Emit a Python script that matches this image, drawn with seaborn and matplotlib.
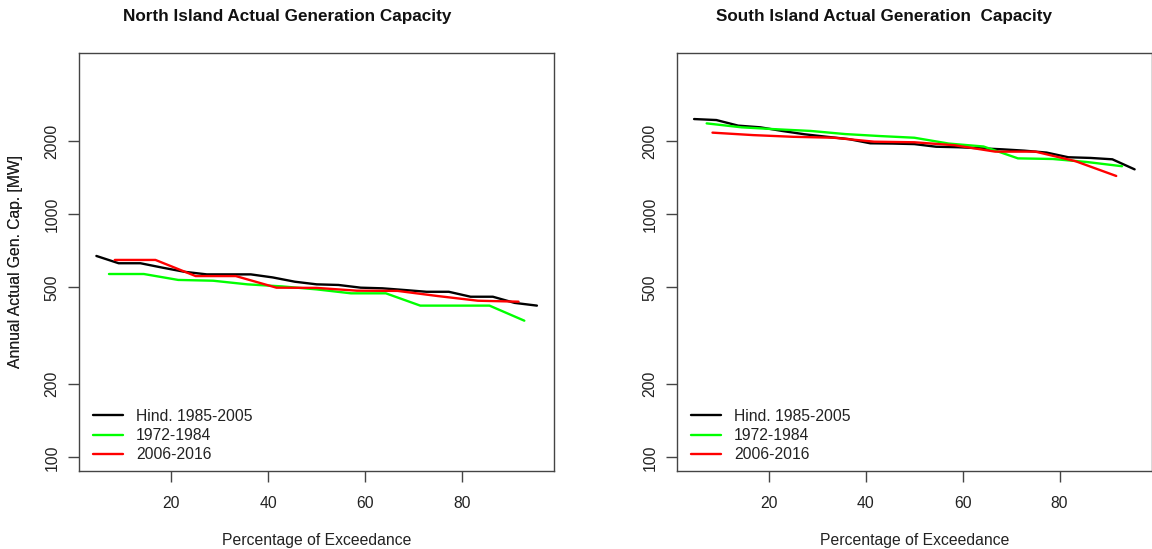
import matplotlib
matplotlib.use("Agg")
import matplotlib.pyplot as plt
import seaborn as sns
import pandas as pd

# ---------------- data ----------------
x_hind = [4.5, 9.1, 13.6, 18.2, 22.7, 27.3, 31.8, 36.4, 40.9, 45.5, 50.0,
          54.5, 59.1, 63.6, 68.2, 72.7, 77.3, 81.8, 86.4, 90.9, 95.5]
x_early = [7.1, 14.3, 21.4, 28.6, 35.7, 42.9, 50.0, 57.1, 64.3, 71.4, 78.6, 85.7, 92.9]
x_recent = [8.3, 16.7, 25.0, 33.3, 41.7, 50.0, 58.3, 66.7, 75.0, 83.3, 91.7]

north_hind = [674, 629, 629, 603, 580, 566, 566, 566, 550, 528, 515,
              512, 499, 496, 488, 480, 480, 458, 458, 432, 421]
north_early = [568, 568, 537, 533, 515, 505, 491, 473, 473, 421, 421, 421, 365]
north_recent = [649, 649, 557, 557, 499, 498, 485, 484, 461, 441, 437]

south_hind = [2466, 2443, 2317, 2280, 2203, 2135, 2086, 2040, 1960, 1955, 1945,
              1897, 1888, 1870, 1851, 1828, 1795, 1717, 1706, 1684, 1531]
south_early = [2367, 2280, 2239, 2203, 2139, 2099, 2066, 1955, 1901, 1699, 1689, 1641, 1577]
south_recent = [2168, 2118, 2084, 2066, 1990, 1979, 1924, 1811, 1811, 1654, 1438]

series_names = ["Hind. 1985-2005", "1972-1984", "2006-2016"]
series_colors = ["#000000", "#00FF00", "#FF0000"]
titles = ["North Island Actual Generation Capacity",
          "South Island Actual Generation  Capacity"]
xlabel = "Percentage of Exceedance"
ylabel = "Annual Actual Gen. Cap. [MW]"
yticks = [100, 200, 500, 1000, 2000]
xticks = [20, 40, 60, 80]


def make_df(hind, early, recent):
    rows = []
    for name, xs, ys in zip(series_names, [x_hind, x_early, x_recent], [hind, early, recent]):
        for xv, yv in zip(xs, ys):
            rows.append({"pct": xv, "cap": yv, "series": name})
    return pd.DataFrame(rows)


dfs = [make_df(north_hind, north_early, north_recent),
       make_df(south_hind, south_early, south_recent)]

# ---------------- style ----------------
sns.set_theme(style="white")
plt.rcParams["font.family"] = ["Liberation Sans", "DejaVu Sans"]
plt.rcParams["axes.edgecolor"] = "#444444"
plt.rcParams["xtick.color"] = "#444444"
plt.rcParams["ytick.color"] = "#444444"

W, H = 1152, 549
fig = plt.figure(figsize=(W / 100, H / 100), dpi=100)

ax_left_px = [79, 676.7]
ax_w_px = 475.3
ax_top_px, ax_bot_px = 52.7, 470.7
title_cx = [287, 883.5]

palette = dict(zip(series_names, series_colors))

for k in range(2):
    ax = fig.add_axes([ax_left_px[k] / W, 1 - ax_bot_px / H, ax_w_px / W,
                       (ax_bot_px - ax_top_px) / H])
    sns.lineplot(data=dfs[k], x="pct", y="cap", hue="series", hue_order=series_names,
                 palette=palette, linewidth=1.7, legend=False, ax=ax, estimator=None)
    ax.set_yscale("log")
    ax.set_xlim(0.91, 99.09)
    ax.set_ylim(88.1, 4624)
    ax.set_xticks(xticks)
    ax.set_xticklabels([str(t) for t in xticks])
    ax.set_yticks(yticks)
    ax.set_yticklabels([str(t) for t in yticks], rotation=90, va="center")
    ax.minorticks_off()
    ax.tick_params(axis="both", which="major", direction="out", length=8, width=1,
                   labelsize=11.3, labelcolor="#222222", left=True, bottom=True)
    ax.tick_params(axis="y", pad=6)
    ax.tick_params(axis="x", pad=10)
    for sp in ax.spines.values():
        sp.set_visible(True)
        sp.set_linewidth(1.0)
        sp.set_color("#444444")

    ax.set_xlabel(xlabel, fontsize=11.3, color="#222222")
    ax.set_ylabel(ylabel, fontsize=11.3, color="#222222")
    ax.xaxis.set_label_coords(0.5, (ax_bot_px - 540) / (ax_bot_px - ax_top_px))
    ax.xaxis.label.set_va("center")
    ax.yaxis.set_label_coords((15 - ax_left_px[k]) / ax_w_px, 0.5)
    ax.yaxis.label.set_va("center")

    fig.text(title_cx[k] / W, 1 - 16 / H, titles[k], fontsize=12.3, fontweight="bold",
             ha="center", va="center", color="#111111")

    handles = ax.get_lines()[:3]
    leg = ax.legend(handles, series_names, loc="lower left",
                    bbox_to_anchor=(14 / ax_w_px, 0.02), frameon=False,
                    fontsize=11.3, handlelength=1.9, handletextpad=0.85,
                    labelspacing=0.27, borderpad=0, borderaxespad=0)
    for t in leg.get_texts():
        t.set_color("#222222")

fig.savefig("out.png", dpi=100)
